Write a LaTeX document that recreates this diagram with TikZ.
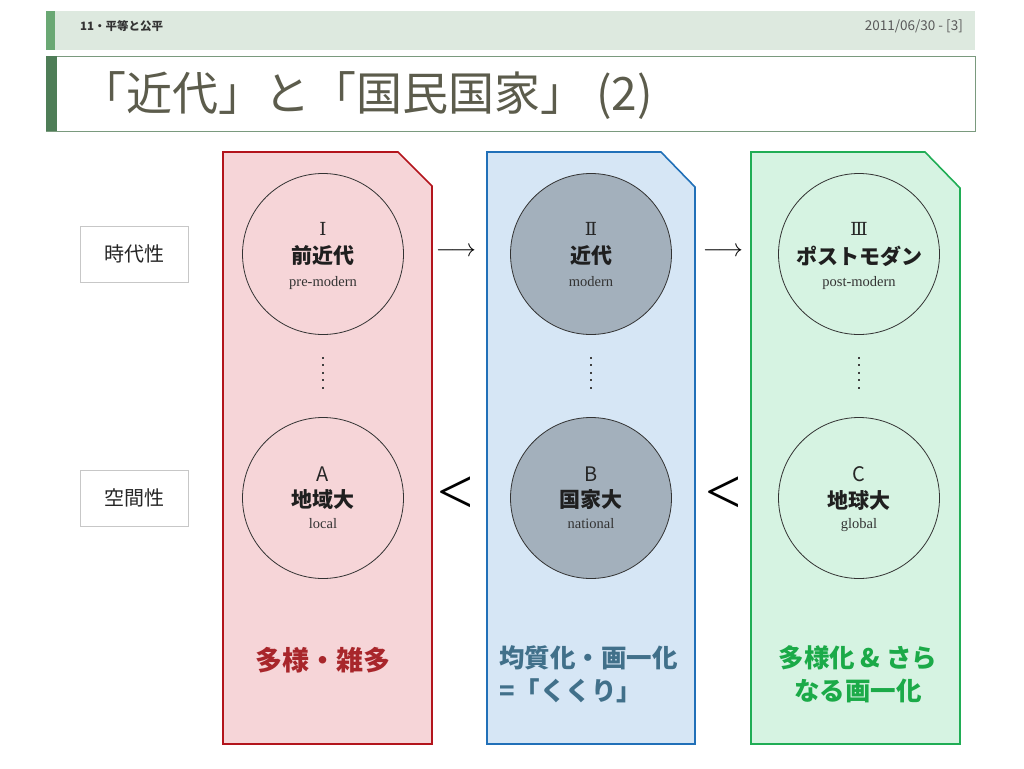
\documentclass[tikz,border=0pt]{standalone}
\usepackage{fontspec}
\setmainfont{Liberation Serif}
\newfontfamily\jp{Noto Sans CJK JP}
\newfontfamily\dvs{DejaVu Serif}
\definecolor{bandfill}{HTML}{DDE9DF}
\definecolor{bandstripe}{HTML}{6AA874}
\definecolor{titlestripe}{HTML}{4E7D57}
\definecolor{titleborder}{HTML}{7A9A7E}
\definecolor{titletext}{HTML}{5C5C4C}
\definecolor{redfill}{HTML}{F6D5D8}
\definecolor{redline}{HTML}{B3141C}
\definecolor{bluefill}{HTML}{D6E6F5}
\definecolor{blueline}{HTML}{2170B8}
\definecolor{greenfill}{HTML}{D6F3E2}
\definecolor{greenline}{HTML}{20AD55}
\definecolor{circfill}{HTML}{A3B0BC}
\definecolor{redtext}{HTML}{A8262B}
\definecolor{bluetext}{HTML}{41708A}
\definecolor{greentext}{HTML}{1BAA48}
\tikzset{
  panel/.style={line width=1.6pt},
  circ/.style={circle, draw=black!80, line width=0.8pt, minimum size=161pt, inner sep=0pt},
  labelbox/.style={draw=black!22, line width=0.8pt, minimum width=108pt, minimum height=56pt, font=\jp\fontsize{20}{24}\selectfont, text=black!85},
  dotline/.style={line width=1.6pt, black!75, dash pattern=on 1.6pt off 5.9pt},
  bottomtext/.style={font=\jp\bfseries\fontsize{25.5}{33}\selectfont},
  numtxt/.style={inner sep=0pt, font=\dvs\fontsize{18}{18}\selectfont, text=black!85},
  lettxt/.style={inner sep=0pt, font=\jp\fontsize{20}{20}\selectfont, text=black!85},
  jptxt/.style={inner sep=0pt, font=\jp\bfseries\fontsize{21}{21}\selectfont, text=black!88},
  entxt/.style={inner sep=0pt, anchor=base, font=\fontsize{14.5}{15}\selectfont, text=black!80},
  sym/.style={inner sep=0pt}
}
\begin{document}
\begin{tikzpicture}[x=1pt,y=-1pt]
\useasboundingbox (0,0) rectangle (1024,768);
\fill[white] (0,0) rectangle (1024,768);
% header band
\fill[bandfill] (46,11) rectangle (975,50);
\fill[bandstripe] (46,11) rectangle (55,50);
\node[anchor=west, inner sep=0pt, font=\jp\bfseries\fontsize{11.5}{12}\selectfont, text=black!80] (sect) at (80,26) {11・平等と公平};
\node[anchor=east, inner sep=0pt, font=\jp\fontsize{13.5}{14}\selectfont, text=black!65] (date) at (963,26) {2011/06/30 - [3]};
% title box
\draw[titleborder, line width=0.8pt, fill=white] (46,56) rectangle (975,131);
\fill[titlestripe] (46,56) rectangle (57,131);
\node[anchor=west, inner sep=0pt, font=\jp\fontsize{46}{50}\selectfont, text=titletext] (title) at (80,96) {「近代」と「国民国家」\hspace{10pt}(2)};
% panels
\draw[panel, draw=redline, fill=redfill] (223,152) -- (398,152) -- (432,186) -- (432,744) -- (223,744) -- cycle;
\draw[panel, draw=blueline, fill=bluefill] (487,152) -- (661,152) -- (695,187) -- (695,744) -- (487,744) -- cycle;
\draw[panel, draw=greenline, fill=greenfill] (751,152) -- (925,152) -- (960,188) -- (960,744) -- (751,744) -- cycle;
% left labels
\node[labelbox] (jidai) at (134,254) {時代性};
\node[labelbox] (kukan) at (134,498) {空間性};
% circles
\node[circ] (t1) at (323,254) {};
\node[circ, fill=circfill] (t2) at (591,254) {};
\node[circ] (t3) at (859,254) {};
\node[circ] (b1) at (323,498) {};
\node[circ, fill=circfill] (b2) at (591,498) {};
\node[circ] (b3) at (859,498) {};
% circle texts
\node[numtxt] (t1n) at ([yshift=25pt]t1.center) {Ⅰ};
\node[jptxt]  (t1j) at ([yshift=-2pt]t1.center) {前近代};
\node[entxt]  (t1e) at ([yshift=-32pt]t1.center) {pre-modern};
\node[numtxt] (t2n) at ([yshift=25pt]t2.center) {Ⅱ};
\node[jptxt]  (t2j) at ([yshift=-2pt]t2.center) {近代};
\node[entxt]  (t2e) at ([yshift=-32pt]t2.center) {modern};
\node[numtxt] (t3n) at ([yshift=25pt]t3.center) {Ⅲ};
\node[jptxt]  (t3j) at ([yshift=-2pt]t3.center) {ポストモダン};
\node[entxt]  (t3e) at ([yshift=-32pt]t3.center) {post-modern};
\node[lettxt] (b1n) at ([yshift=24pt]b1.center) {A};
\node[jptxt]  (b1j) at ([yshift=-2pt]b1.center) {地域大};
\node[entxt]  (b1e) at ([yshift=-30pt]b1.center) {local};
\node[lettxt] (b2n) at ([yshift=24pt]b2.center) {B};
\node[jptxt]  (b2j) at ([yshift=-2pt]b2.center) {国家大};
\node[entxt]  (b2e) at ([yshift=-30pt]b2.center) {national};
\node[lettxt] (b3n) at ([yshift=24pt]b3.center) {C};
\node[jptxt]  (b3j) at ([yshift=-2pt]b3.center) {地球大};
\node[entxt]  (b3e) at ([yshift=-30pt]b3.center) {global};
% dotted connectors
\draw[dotline] ([yshift=-22pt]t1.south) -- ([yshift=23pt]b1.north);
\draw[dotline] ([yshift=-22pt]t2.south) -- ([yshift=23pt]b2.north);
\draw[dotline] ([yshift=-22pt]t3.south) -- ([yshift=23pt]b3.north);
% arrows and comparison signs
\node[sym, font=\fontsize{24}{24}\selectfont] (ar1) at (456,252) {$\longrightarrow$};
\node[sym, font=\fontsize{24}{24}\selectfont] (ar2) at (723,252) {$\longrightarrow$};
\node[sym, font=\fontsize{64}{64}\selectfont] (lt1) at (456,495) {<};
\node[sym, font=\fontsize{64}{64}\selectfont] (lt2) at (724,495) {<};
% bottom texts
\node[bottomtext, text=redtext, inner sep=0pt, font=\jp\bfseries\fontsize{27}{33}\selectfont] (r) at (323,660) {多様・雑多};
\node[bottomtext, text=bluetext, align=left, anchor=north west, inner sep=0pt] (bl) at (499,645) {均質化・画一化\\=「くくり」};
\node[bottomtext, text=greentext, align=center, anchor=north, inner sep=0pt] (gr) at (858,645) {多様化 \& さら\\なる画一化};
\end{tikzpicture}
\end{document}
